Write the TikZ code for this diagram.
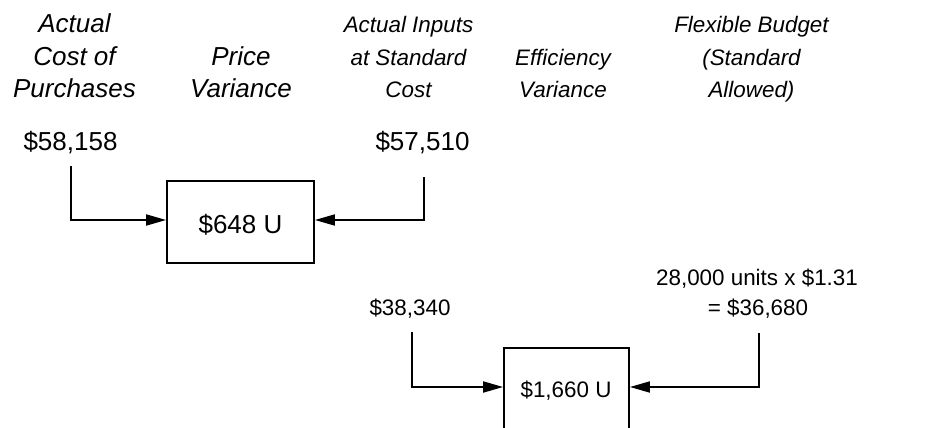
\documentclass[tikz,border=0pt]{standalone}
\usepackage{fontspec}
\setmainfont{Liberation Sans}
\usetikzlibrary{arrows.meta}
\begin{document}
\begin{tikzpicture}[x=1pt,y=-1pt,
  big/.style={font=\fontsize{26}{32}\selectfont, inner sep=0pt, anchor=base},
  small/.style={font=\fontsize{22.4}{32}\selectfont, inner sep=0pt, anchor=base},
  bighead/.style={big, font=\fontsize{26}{32}\selectfont\itshape},
  smallhead/.style={small, font=\fontsize{22.4}{32}\selectfont\itshape},
  varbox/.style={draw, line width=1.8pt, inner sep=0pt},
  conn/.style={line width=1.8pt, -{Triangle[length=20pt,width=11pt]}}]
\useasboundingbox (0,0) rectangle (951,428);
% headers
\node[bighead] (h1a) at (74.5,33) {Actual};
\node[bighead] (h1b) at (74.5,65.5) {Cost of};
\node[bighead] (h1c) at (74.5,97.5) {Purchases};
\node[bighead] (h2a) at (241,65.5) {Price};
\node[bighead] (h2b) at (241,97.5) {Variance};
\node[smallhead] (h3a) at (408.5,33) {Actual Inputs};
\node[smallhead] (h3b) at (408.5,65.5) {at Standard};
\node[smallhead] (h3c) at (408.5,97.5) {Cost};
\node[smallhead] (h4a) at (563,65.5) {Efficiency};
\node[smallhead] (h4b) at (563,97.5) {Variance};
\node[smallhead] (h5a) at (751.5,33) {Flexible Budget};
\node[smallhead] (h5b) at (751.5,65.5) {(Standard};
\node[smallhead] (h5c) at (751.5,97.5) {Allowed)};
% numbers
\node[big] (n1) at (70.5,150) {\$58,158};
\node[big] (n2) at (422.5,150) {\$57,510};
\node[small] (n3) at (410,315) {\$38,340};
\node[small] (n4a) at (757,285) {28,000 units x \$1.31};
\node[small] (n4b) at (758,315) {= \$36,680};
% boxes
\node[varbox, minimum width=147pt, minimum height=82pt] (b1) at (240.5,222) {};
\node[big] (b1t) at (240.5,233) {\$648 U};
\node[varbox, minimum width=125pt, minimum height=84pt] (b2) at (566.5,390) {};
\node[small] (b2t) at (566,397) {\$1,660 U};
% connector starts
\coordinate (s1) at (71,166);
\coordinate (s2) at (424,177);
\coordinate (s3) at (412,332);
\coordinate (s4) at (759,333);
\draw[conn] (s1) |- ([yshift=2pt]b1.west);
\draw[conn] (s2) |- ([yshift=2pt]b1.east);
\draw[conn] (s3) |- ([yshift=3pt]b2.west);
\draw[conn] (s4) |- ([yshift=3pt]b2.east);
\end{tikzpicture}
\end{document}
